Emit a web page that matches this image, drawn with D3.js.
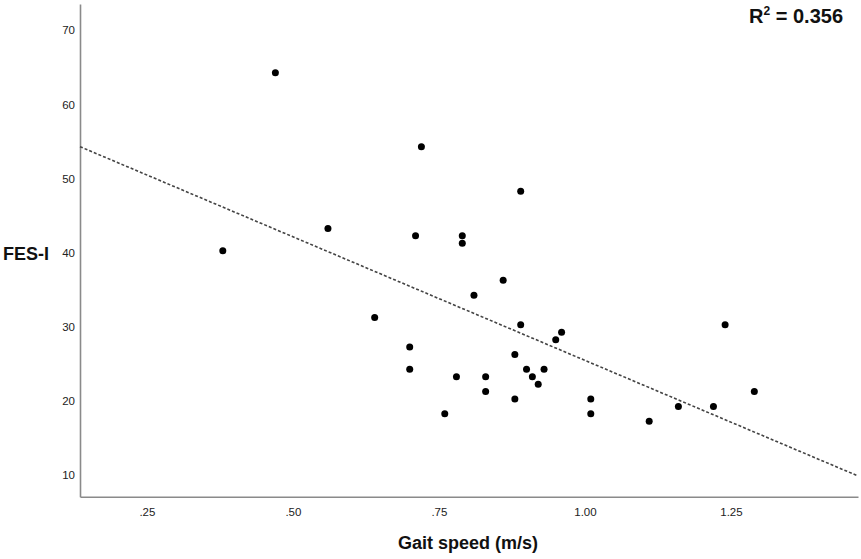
<!DOCTYPE html>
<html>
<head>
<meta charset="utf-8">
<script src="https://cdn.jsdelivr.net/npm/d3@7"></script>
<style>
  html, body { margin: 0; padding: 0; background: #fff; }
  svg { display: block; font-family: Arial, "Liberation Sans", sans-serif; }
</style>
</head>
<body>
<svg id="chart" width="861" height="559"></svg>
<script>
// ---- data ----
const gaitSpeed = [0.38, 0.47, 0.56, 0.64, 0.70, 0.70, 0.71, 0.72, 0.76, 0.78, 0.79, 0.79, 0.81,
                   0.83, 0.83, 0.86, 0.88, 0.88, 0.89, 0.89, 0.90, 0.91, 0.92, 0.93, 0.95, 0.96,
                   1.01, 1.01, 1.11, 1.16, 1.22, 1.24, 1.29];
const fesI      = [40, 64, 43, 31, 27, 24, 42, 54, 18, 23, 42, 41, 34,
                   23, 21, 36, 26, 20, 30, 48, 24, 23, 22, 24, 28, 29,
                   20, 18, 17, 19, 19, 30, 21];
const xTicks = [0.25, 0.50, 0.75, 1.00, 1.25];
const yTicks = [10, 20, 30, 40, 50, 60, 70];
const fitIntercept = 58.54;
const fitSlope = -33.33;
const rSquaredLabel = "0.356";
const xTitle = "Gait speed (m/s)";
const yTitle = "FES-I";

// ---- drawing ----
const svg = d3.select("#chart");
const xDomain = [0.1355, 1.4675];
const yDomain = [6.83, 73.26];
const x = d3.scaleLinear().domain(xDomain).range([80, 858]);
const y = d3.scaleLinear().domain(yDomain).range([496.7, 4]);

const fmtX = v => { const s = d3.format(".2f")(v); return s.startsWith("0") ? s.slice(1) : s; };

const gx = svg.append("g").attr("transform", `translate(0,${y(yDomain[0])})`)
  .call(d3.axisBottom(x).tickValues(xTicks).tickFormat(fmtX).tickSize(0).tickSizeOuter(0).tickPadding(11));
const gy = svg.append("g").attr("transform", `translate(${x(xDomain[0])},0)`)
  .call(d3.axisLeft(y).tickValues(yTicks).tickFormat(d3.format("d")).tickSize(0).tickSizeOuter(0).tickPadding(5));

[gx, gy].forEach(g => {
  g.select(".domain").attr("stroke", "#8a8a8a").attr("stroke-width", 1.6);
  g.selectAll("text").attr("font-size", 11.5).attr("fill", "#222")
    .attr("font-family", "Arial, 'Liberation Sans', sans-serif");
});
gy.selectAll("text").attr("dy", "0.5em");

// regression line
const fit = v => fitIntercept + fitSlope * v;
svg.append("line")
  .attr("x1", x(xDomain[0])).attr("y1", y(fit(xDomain[0])))
  .attr("x2", x(xDomain[1])).attr("y2", y(fit(xDomain[1])))
  .attr("stroke", "#444").attr("stroke-width", 1.6)
  .attr("stroke-dasharray", "3,2");

// points
svg.append("g").selectAll("circle")
  .data(gaitSpeed.map((g, i) => [g, fesI[i]]))
  .join("circle")
  .attr("cx", d => x(d[0])).attr("cy", d => y(d[1]))
  .attr("r", 3.5).attr("fill", "#000");

// titles
svg.append("text").attr("x", 468).attr("y", 549)
  .attr("text-anchor", "middle").attr("font-size", 18).attr("font-weight", "bold")
  .attr("fill", "#111").text(xTitle);
svg.append("text").attr("x", 3).attr("y", 259.5)
  .attr("text-anchor", "start").attr("font-size", 18).attr("font-weight", "bold")
  .attr("fill", "#111").text(yTitle);

// R^2 label
const r2 = svg.append("text").attr("x", 843).attr("y", 23)
  .attr("text-anchor", "end").attr("font-size", 20).attr("font-weight", "bold").attr("fill", "#111");
r2.append("tspan").text("R");
r2.append("tspan").attr("font-size", 12).attr("dy", -8).text("2");
r2.append("tspan").attr("dy", 8).text(" = " + rSquaredLabel);
</script>
</body>
</html>
